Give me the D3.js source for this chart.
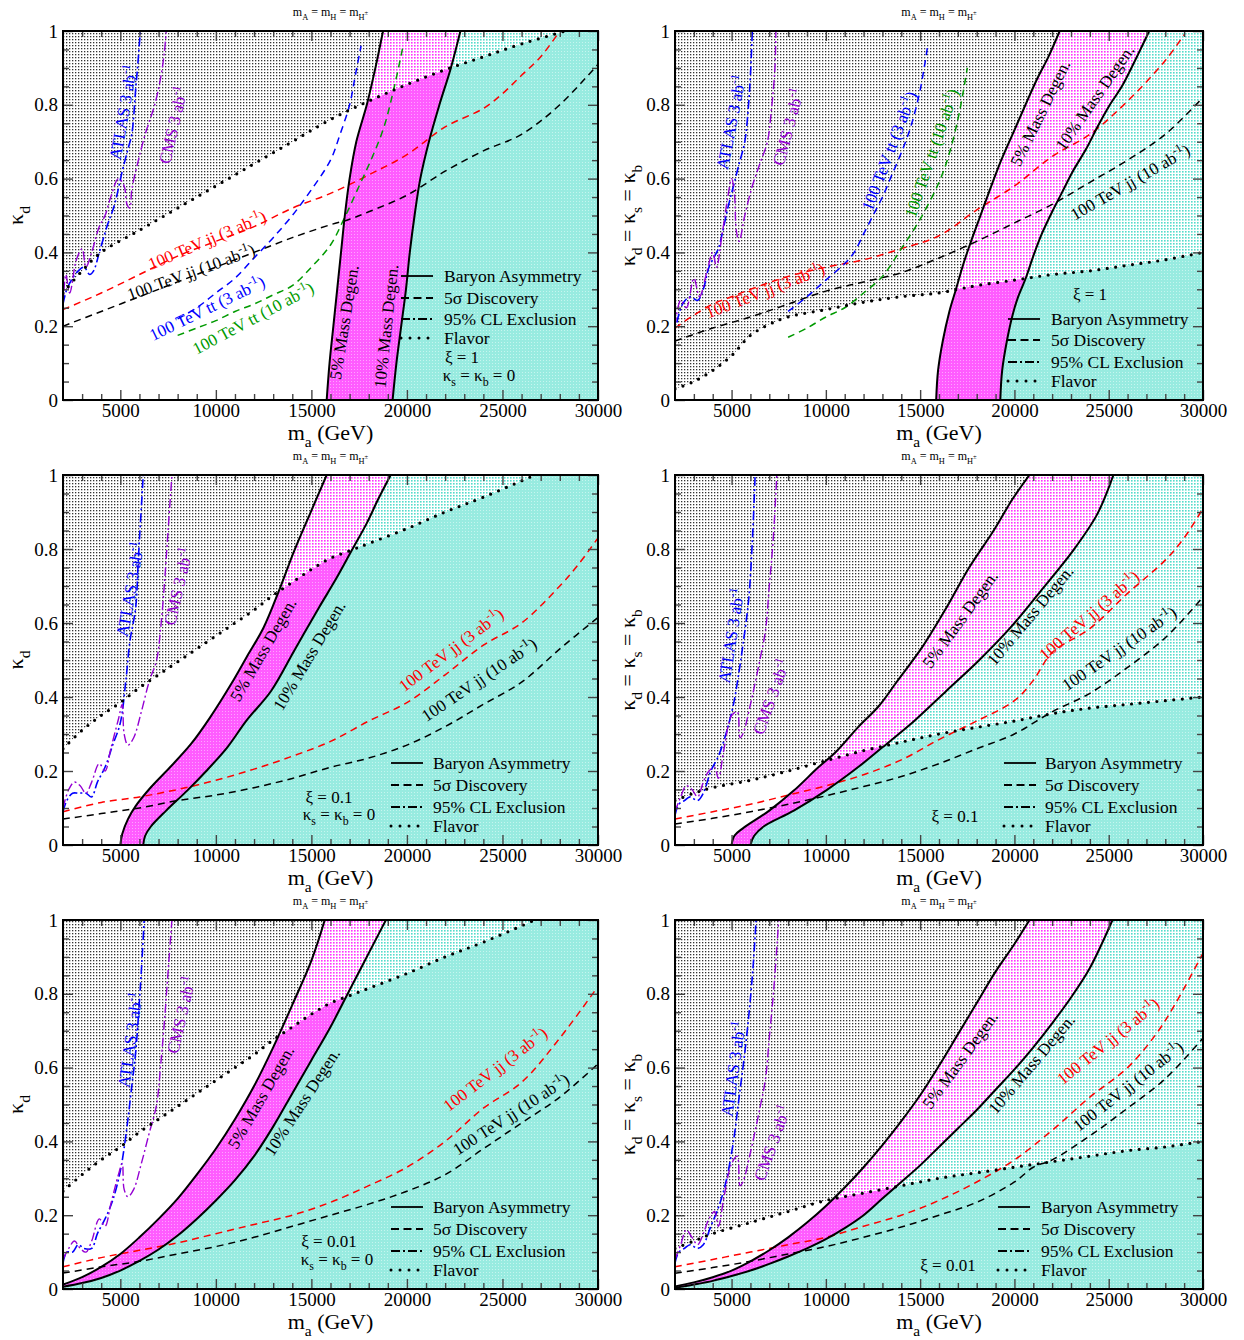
<!DOCTYPE html>
<html>
<head>
<meta charset="utf-8">
<script src="https://cdn.jsdelivr.net/npm/d3@7/dist/d3.min.js"></script>
<style>
  body { margin: 0; background: #fff; }
  svg { display: block; }
  text { font-family: "Liberation Serif", "Times New Roman", serif; }
</style>
</head>
<body>
<svg id="fig" width="1244" height="1340"></svg>
<script>
// ---------- data: [m_a (GeV), kappa] ----------
// Panel A: xi = 1, kappa_s = kappa_b = 0
const degen5A = [[15800,0],[15950,0.1],[16150,0.2],[16350,0.3],[16550,0.4],[16750,0.5],[17000,0.6],[17350,0.7],[17900,0.8],[18350,0.9],[18750,1.0]];
const degen10A = [[19250,0],[19450,0.1],[19700,0.2],[19950,0.3],[20150,0.4],[20400,0.5],[20700,0.6],[21150,0.7],[21700,0.8],[22300,0.9],[22800,1.0]];
const flavorA = [[2000,0.29],[3000,0.35],[4000,0.40],[6000,0.46],[8000,0.52],[10000,0.58],[12000,0.64],[14000,0.70],[16000,0.76],[18000,0.81],[20000,0.855],[22000,0.895],[24000,0.93],[26000,0.965],[28300,1.0]];
const jj3A = [[2000,0.245],[4000,0.29],[6000,0.34],[8000,0.39],[10000,0.43],[12000,0.47],[14000,0.52],[16000,0.56],[18000,0.61],[20000,0.665],[22000,0.74],[24000,0.79],[25000,0.83],[26000,0.88],[27000,0.93],[28000,1.0]];
const jj10A = [[2000,0.2],[4000,0.24],[6000,0.28],[8000,0.32],[10000,0.36],[12000,0.40],[14000,0.44],[16000,0.475],[17000,0.49],[18000,0.51],[20000,0.555],[22000,0.62],[24000,0.675],[26000,0.72],[28000,0.80],[30000,0.91]];
const tt3A = [[8000,0.22],[9000,0.25],[10000,0.29],[11000,0.33],[12000,0.385],[13000,0.44],[14000,0.50],[15000,0.57],[16000,0.65],[16500,0.72],[17000,0.80],[17300,0.88],[17600,0.96]];
const tt10A = [[8000,0.175],[9000,0.195],[10000,0.215],[11000,0.24],[12000,0.26],[13000,0.285],[14000,0.31],[15000,0.36],[16000,0.42],[16700,0.49],[17500,0.58],[18200,0.66],[18800,0.74],[19300,0.84],[19800,0.96]];
const atlasA = [[2000,0.26],[2200,0.30],[2500,0.33],[2800,0.35],[3100,0.36],[3400,0.34],[3600,0.35],[3900,0.40],[4300,0.47],[4700,0.53],[5100,0.62],[5400,0.68],[5600,0.72],[5800,0.84],[5900,0.90],[6050,1.0]];
const cmsA = [[2000,0.25],[2150,0.34],[2350,0.29],[2700,0.38],[3000,0.41],[3200,0.36],[3500,0.40],[3900,0.47],[4200,0.50],[4500,0.55],[4900,0.60],[5200,0.58],[5350,0.53],[5500,0.52],[5600,0.57],[5900,0.64],[6300,0.72],[6800,0.80],[7100,0.87],[7300,0.94],[7400,1.0]];

// Panel B: xi = 1, kappa_d = kappa_s = kappa_b
const degen5B = [[15850,0],[15950,0.08],[16200,0.16],[16550,0.24],[16900,0.30],[17300,0.37],[17700,0.43],[18200,0.50],[18700,0.57],[19300,0.65],[19900,0.72],[20500,0.79],[21200,0.87],[21800,0.93],[22400,1.0]];
const degen10B = [[19250,0],[19350,0.08],[19600,0.16],[19900,0.23],[20200,0.28],[20600,0.33],[21000,0.39],[21450,0.45],[22000,0.51],[22500,0.56],[23100,0.62],[23800,0.68],[24400,0.74],[25000,0.795],[25700,0.85],[26300,0.91],[27150,1.0]];
const flavorB = [[2000,0.03],[3000,0.05],[4000,0.08],[5000,0.12],[6000,0.175],[7000,0.205],[8000,0.225],[10000,0.245],[12000,0.265],[14000,0.28],[16000,0.29],[17000,0.30],[18000,0.31],[20000,0.325],[22000,0.34],[24000,0.35],[26000,0.365],[28000,0.38],[30000,0.40]];
const jj3B = [[2000,0.195],[3000,0.23],[4000,0.26],[5000,0.28],[6000,0.30],[8000,0.335],[10000,0.36],[12000,0.38],[14000,0.41],[16000,0.445],[18000,0.515],[20000,0.58],[22000,0.66],[24000,0.72],[26000,0.81],[28000,0.92],[29000,0.99]];
const jj10B = [[2000,0.16],[4000,0.195],[6000,0.225],[8000,0.26],[10000,0.295],[12000,0.32],[14000,0.345],[16000,0.385],[18000,0.43],[20000,0.48],[22000,0.53],[24000,0.59],[26000,0.65],[28000,0.72],[30000,0.82]];
const tt3B = [[8000,0.24],[9000,0.28],[10000,0.325],[11000,0.37],[11500,0.40],[12000,0.45],[12500,0.50],[13000,0.55],[13500,0.61],[14000,0.67],[14500,0.74],[15000,0.84],[15400,0.96]];
const tt10B = [[8000,0.17],[9000,0.195],[10000,0.225],[11000,0.25],[12000,0.29],[13000,0.335],[14000,0.41],[15000,0.49],[16000,0.59],[16500,0.66],[17000,0.76],[17300,0.84],[17500,0.90]];
const atlasB = [[2100,0.21],[2400,0.26],[2800,0.28],[3200,0.27],[3500,0.30],[3800,0.36],[4100,0.39],[4300,0.41],[4500,0.45],[4800,0.52],[5100,0.58],[5400,0.64],[5700,0.70],[5900,0.80],[6000,0.88],[6100,1.0]];
const cmsB = [[2000,0.20],[2300,0.27],[2600,0.25],[3000,0.33],[3300,0.28],[3700,0.35],[4000,0.40],[4200,0.36],[4500,0.45],[4800,0.55],[5000,0.60],[5150,0.56],[5250,0.46],[5400,0.43],[5700,0.50],[6100,0.58],[6500,0.64],[6900,0.70],[7100,0.78],[7300,0.90],[7350,1.0]];

// Panel C: xi = 0.1, kappa_s = kappa_b = 0
const degen5C = [[5000,0],[5100,0.03],[5400,0.07],[5800,0.105],[6600,0.156],[7600,0.21],[8700,0.273],[9700,0.345],[10800,0.435],[11600,0.507],[12500,0.588],[13300,0.687],[14100,0.795],[15000,0.904],[15800,1.0]];
const degen10C = [[6200,0],[6300,0.025],[6600,0.05],[7400,0.093],[8500,0.147],[9500,0.2],[10600,0.264],[11600,0.336],[12900,0.417],[14100,0.525],[15400,0.642],[16300,0.72],[17100,0.795],[17900,0.87],[18500,0.935],[19150,1.0]];
const flavorC = [[2000,0.26],[3000,0.31],[4000,0.35],[5000,0.385],[6000,0.425],[7000,0.46],[8000,0.495],[9000,0.53],[10000,0.565],[11000,0.60],[12000,0.635],[13000,0.675],[14000,0.71],[15000,0.745],[16000,0.775],[17000,0.795],[18000,0.815],[20000,0.855],[22000,0.90],[24000,0.94],[26700,1.0]];
const jj3C = [[2000,0.09],[4000,0.115],[6000,0.13],[8000,0.15],[10000,0.175],[12000,0.205],[14000,0.24],[16000,0.28],[18000,0.335],[20000,0.385],[22000,0.46],[24000,0.54],[26000,0.60],[28000,0.70],[29000,0.76],[30000,0.83]];
const jj10C = [[2000,0.07],[4000,0.085],[6000,0.10],[8000,0.12],[10000,0.135],[12000,0.155],[14000,0.18],[16000,0.21],[18000,0.235],[20000,0.27],[22000,0.32],[24000,0.38],[26000,0.44],[28000,0.53],[30000,0.615]];
const atlasC = [[2000,0.09],[2200,0.12],[2500,0.14],[2800,0.14],[3200,0.14],[3500,0.13],[3800,0.17],[4200,0.21],[4600,0.27],[5000,0.33],[5300,0.45],[5500,0.55],[5800,0.64],[5950,0.78],[6200,1.0]];
const cmsC = [[2000,0.10],[2300,0.15],[2600,0.17],[2900,0.16],[3200,0.14],[3500,0.17],[3900,0.22],[4200,0.20],[4500,0.26],[4900,0.34],[5100,0.38],[5200,0.30],[5400,0.27],[5700,0.29],[6100,0.36],[6500,0.44],[6900,0.50],[7100,0.58],[7300,0.70],[7500,0.85],[7700,1.0]];

// Panel D: xi = 0.1, kappa_d = kappa_s = kappa_b
const degen5D = [[5000,0],[5150,0.025],[5600,0.045],[7000,0.093],[8300,0.147],[9600,0.21],[10500,0.25],[11700,0.318],[12800,0.375],[13800,0.444],[15100,0.534],[16400,0.642],[17600,0.75],[18900,0.85],[19900,0.935],[20800,1.0]];
const degen10D = [[6000,0],[6200,0.025],[6700,0.05],[8300,0.093],[10000,0.147],[11700,0.21],[13000,0.264],[14700,0.336],[16400,0.417],[18100,0.498],[19800,0.588],[21400,0.687],[23100,0.795],[24400,0.895],[25250,1.0]];
const flavorD = [[2000,0.12],[3000,0.14],[4000,0.155],[6000,0.175],[8000,0.20],[10000,0.228],[12000,0.255],[14000,0.278],[16000,0.30],[18000,0.318],[20000,0.335],[22000,0.355],[24000,0.37],[26000,0.38],[28000,0.39],[30000,0.40]];
const jj3D = [[2000,0.07],[4000,0.09],[6000,0.11],[8000,0.135],[10000,0.16],[12000,0.19],[14000,0.23],[16000,0.285],[18000,0.335],[20000,0.39],[21000,0.445],[22000,0.52],[24000,0.585],[26000,0.68],[28000,0.77],[29000,0.83],[30000,0.91]];
const jj10D = [[2000,0.057],[4000,0.072],[6000,0.09],[8000,0.11],[10000,0.133],[12000,0.158],[14000,0.185],[16000,0.22],[18000,0.26],[20000,0.30],[22000,0.36],[24000,0.41],[26000,0.48],[28000,0.56],[30000,0.67]];
const atlasD = [[2000,0.08],[2200,0.11],[2500,0.12],[2800,0.13],[3200,0.12],[3500,0.14],[3900,0.20],[4300,0.24],[4700,0.30],[5100,0.38],[5400,0.47],[5600,0.54],[5900,0.66],[6100,0.82],[6250,1.0]];
const cmsD = [[2000,0.09],[2300,0.13],[2600,0.16],[2900,0.15],[3200,0.13],[3500,0.17],[3800,0.20],[4100,0.21],[4300,0.18],[4600,0.26],[5000,0.35],[5300,0.36],[5450,0.29],[5600,0.30],[6000,0.38],[6500,0.50],[6800,0.58],[7000,0.70],[7200,0.82],[7400,1.0]];

// Panel E: xi = 0.01, kappa_s = kappa_b = 0
const degen5E = [[2000,0.012],[3000,0.032],[4000,0.06],[5000,0.095],[6000,0.14],[7000,0.19],[8000,0.245],[9000,0.31],[10000,0.38],[11000,0.46],[12000,0.55],[13000,0.655],[14000,0.77],[15000,0.89],[15700,1.0]];
const degen10E = [[2000,0.006],[3000,0.016],[4000,0.03],[5000,0.05],[6000,0.076],[7000,0.107],[8000,0.145],[9000,0.19],[10000,0.24],[11000,0.295],[12000,0.36],[13000,0.44],[14000,0.53],[15000,0.62],[16000,0.71],[16800,0.79],[17600,0.87],[18300,0.94],[18900,1.0]];
const flavorE = [[2000,0.265],[3000,0.31],[4000,0.35],[5000,0.385],[6000,0.425],[7000,0.46],[8000,0.495],[9000,0.53],[10000,0.565],[11000,0.60],[12000,0.635],[13000,0.675],[14000,0.71],[15000,0.745],[16000,0.775],[17000,0.795],[18000,0.815],[20000,0.855],[22000,0.90],[24000,0.94],[26700,1.0]];
const jj3E = [[2000,0.06],[4000,0.085],[6000,0.105],[8000,0.125],[10000,0.15],[12000,0.175],[14000,0.20],[16000,0.235],[18000,0.28],[20000,0.33],[22000,0.40],[24000,0.49],[26000,0.56],[28000,0.68],[30000,0.82]];
const jj10E = [[2000,0.043],[4000,0.06],[6000,0.075],[8000,0.095],[10000,0.115],[12000,0.14],[14000,0.17],[16000,0.20],[18000,0.23],[20000,0.265],[22000,0.31],[24000,0.38],[26000,0.45],[28000,0.52],[30000,0.61]];
const atlasE = [[2000,0.07],[2200,0.10],[2500,0.10],[2800,0.12],[3100,0.11],[3500,0.11],[3800,0.15],[4200,0.19],[4600,0.24],[5000,0.32],[5300,0.42],[5600,0.55],[5800,0.64],[6050,0.82],[6250,1.0]];
const cmsE = [[2000,0.08],[2300,0.11],[2600,0.13],[2900,0.11],[3200,0.10],[3500,0.13],[3900,0.19],[4200,0.17],[4500,0.23],[4900,0.31],[5100,0.34],[5200,0.27],[5400,0.25],[5700,0.27],[6100,0.34],[6500,0.42],[6900,0.50],[7100,0.60],[7300,0.72],[7500,0.86],[7700,1.0]];

// Panel F: xi = 0.01, kappa_d = kappa_s = kappa_b
const degen5F = [[2000,0.007],[3000,0.018],[4000,0.032],[5000,0.05],[6000,0.075],[7000,0.105],[8000,0.14],[9000,0.18],[10000,0.225],[11000,0.275],[12000,0.33],[13000,0.39],[14000,0.455],[15000,0.525],[16000,0.605],[17000,0.69],[18000,0.775],[19000,0.86],[20000,0.935],[20800,1.0]];
const degen10F = [[2000,0.003],[3000,0.012],[4000,0.022],[5000,0.035],[6000,0.05],[7000,0.068],[8000,0.088],[9000,0.11],[10000,0.135],[11000,0.165],[12000,0.20],[13000,0.245],[14000,0.29],[15000,0.335],[16000,0.385],[17000,0.435],[18000,0.485],[19000,0.54],[20000,0.595],[21000,0.655],[22000,0.72],[23000,0.79],[24000,0.87],[25200,1.0]];
const flavorF = [[2000,0.11],[3000,0.13],[4000,0.15],[6000,0.18],[8000,0.21],[10000,0.24],[12000,0.26],[14000,0.28],[16000,0.30],[18000,0.315],[20000,0.33],[22000,0.345],[24000,0.36],[26000,0.375],[28000,0.385],[30000,0.40]];
const jj3F = [[2000,0.06],[4000,0.08],[6000,0.10],[8000,0.12],[10000,0.14],[12000,0.17],[14000,0.20],[16000,0.24],[18000,0.29],[20000,0.35],[22000,0.43],[24000,0.52],[26000,0.60],[27500,0.69],[28500,0.77],[30000,0.91]];
const jj10F = [[2000,0.043],[4000,0.058],[6000,0.075],[8000,0.095],[10000,0.115],[12000,0.14],[14000,0.168],[16000,0.20],[18000,0.235],[20000,0.29],[21000,0.33],[22000,0.35],[24000,0.415],[26000,0.49],[28000,0.57],[30000,0.68]];
const atlasF = [[2000,0.07],[2200,0.10],[2500,0.11],[2800,0.12],[3200,0.11],[3500,0.12],[3900,0.17],[4300,0.22],[4700,0.29],[5100,0.40],[5400,0.52],[5700,0.64],[5950,0.76],[6150,0.88],[6300,1.0]];
const cmsF = [[2000,0.08],[2300,0.12],[2600,0.16],[2900,0.14],[3200,0.12],[3500,0.15],[3800,0.19],[4100,0.21],[4300,0.17],[4600,0.25],[5000,0.34],[5300,0.36],[5450,0.28],[5600,0.29],[6000,0.37],[6500,0.49],[6800,0.57],[7000,0.68],[7250,0.82],[7500,1.0]];

// tick values
const xMajor = [5000, 10000, 15000, 20000, 25000, 30000];
const xMinor = d3.range(3000, 30000, 1000).filter(v => v % 5000 !== 0);
const yMajor = [0, 0.2, 0.4, 0.6, 0.8, 1];
const yMinor = d3.range(1, 20).filter(i => i % 4 !== 0).map(i => i / 20);

// text pieces: [string, mode] mode 0 normal, 1 subscript, 2 superscript, 3 small raised
const T_ATLAS = [["ATLAS 3 ab", 0], ["-1", 2]];
const T_CMS = [["CMS 3 ab", 0], ["-1", 2]];
const T_JJ3 = [["100 TeV jj (3 ab", 0], ["-1", 2], [")", 0]];
const T_JJ10 = [["100 TeV jj (10 ab", 0], ["-1", 2], [")", 0]];
const T_TT3 = [["100 TeV tt (3 ab", 0], ["-1", 2], [")", 0]];
const T_TT10 = [["100 TeV tt (10 ab", 0], ["-1", 2], [")", 0]];
const T_D5 = [["5% Mass Degen.", 0]];
const T_D10 = [["10% Mass Degen.", 0]];
const T_TITLE = [["m", 0], ["A", 1], [" = m", 0], ["H", 1], [" = m", 0], ["H", 1], ["±", 3]];
const T_XLAB = [["m", 0], ["a", 1], [" (GeV)", 0]];
const T_YLAB1 = [["κ", 0], ["d", 1]];
const T_YLAB2 = [["κ", 0], ["d", 1], [" = κ", 0], ["s", 1], [" = κ", 0], ["b", 1]];
const T_KZERO = [["κ", 0], ["s", 1], [" = κ", 0], ["b", 1], [" = 0", 0]];
const legendNames = ["Baryon Asymmetry", "5σ Discovery", "95% CL Exclusion", "Flavor"];

const RED = "#ff0000", BLUE = "#0000ff", GREEN = "#009a00", PURPLE = "#9400d3";

// annotation anchors in data units (m, kappa) and rotation
const labelsA = [
  { t: T_ATLAS, m: 5140, k: 0.78, a: -80, c: BLUE },
  { t: T_CMS, m: 7757, k: 0.745, a: -77, c: PURPLE },
  { t: T_JJ3, m: 9537, k: 0.434, a: -23, c: RED },
  { t: T_JJ10, m: 8700, k: 0.347, a: -20, c: "#000" },
  { t: T_TT3, m: 9537, k: 0.249, a: -26, c: BLUE },
  { t: T_TT10, m: 11945, k: 0.222, a: -28, c: GREEN },
  { t: T_D5, m: 16700, k: 0.211, a: -81, c: "#000" },
  { t: T_D10, m: 18900, k: 0.2, a: -84, c: "#000" }
];
const labelsB = [
  { t: T_ATLAS, m: 4970, k: 0.753, a: -79, c: BLUE },
  { t: T_CMS, m: 7992, k: 0.74, a: -75, c: PURPLE },
  { t: T_TT3, m: 13348, k: 0.675, a: -69, c: BLUE },
  { t: T_TT10, m: 15600, k: 0.669, a: -71, c: GREEN },
  { t: T_D5, m: 21356, k: 0.778, a: -64, c: "#000" },
  { t: T_D10, m: 24250, k: 0.82, a: -55, c: "#000" },
  { t: T_JJ3, m: 6773, k: 0.297, a: -21, c: RED },
  { t: T_JJ10, m: 26129, k: 0.591, a: -30, c: "#000" }
];
const labelsC = [
  { t: T_ATLAS, m: 5507, k: 0.691, a: -80, c: BLUE },
  { t: T_CMS, m: 8019, k: 0.699, a: -77, c: PURPLE },
  { t: T_D5, m: 12468, k: 0.528, a: -60, c: "#000" },
  { t: T_D10, m: 14876, k: 0.512, a: -59, c: "#000" },
  { t: T_JJ3, m: 22308, k: 0.528, a: -37, c: RED },
  { t: T_JJ10, m: 23773, k: 0.447, a: -34, c: "#000" }
];
const labelsD = [
  { t: T_ATLAS, m: 4970, k: 0.566, a: -81, c: BLUE },
  { t: T_CMS, m: 7091, k: 0.401, a: -70, c: PURPLE },
  { t: T_D5, m: 17113, k: 0.61, a: -54, c: "#000" },
  { t: T_D10, m: 20826, k: 0.621, a: -50, c: "#000" },
  { t: T_JJ3, m: 23954, k: 0.621, a: -41, c: RED },
  { t: T_JJ10, m: 25545, k: 0.531, a: -34.5, c: "#000" }
];
const labelsE = [
  { t: T_ATLAS, m: 5507, k: 0.675, a: -82, c: BLUE },
  { t: T_CMS, m: 8176, k: 0.743, a: -77, c: PURPLE },
  { t: T_D5, m: 12350, k: 0.52, a: -60, c: "#000" },
  { t: T_D10, m: 14500, k: 0.507, a: -57, c: "#000" },
  { t: T_JJ3, m: 24611, k: 0.596, a: -37.5, c: RED },
  { t: T_JJ10, m: 25448, k: 0.474, a: -33, c: "#000" }
];
const labelsF = [
  { t: T_ATLAS, m: 5076, k: 0.596, a: -82, c: BLUE },
  { t: T_CMS, m: 7144, k: 0.396, a: -70, c: PURPLE },
  { t: T_D5, m: 17113, k: 0.621, a: -54, c: "#000" },
  { t: T_D10, m: 20900, k: 0.61, a: -50, c: "#000" },
  { t: T_JJ3, m: 24962, k: 0.672, a: -39, c: RED },
  { t: T_JJ10, m: 26023, k: 0.55, a: -38, c: "#000" }
];

// ---------- layout ----------
const panels = [
  { left: 63, top: 31, w: 535, h: 369, c5: degen5A, c10: degen10A, flavor: flavorA, jj3: jj3A, jj10: jj10A, tt3: tt3A, tt10: tt10A, atlas: atlasA, cms: cmsA,
    ylab: T_YLAB1, xi: "1", labels: labelsA, leg: { lx: 338, tx: 381, rows: [245, 267, 288, 307], xi: [399, 327], kz: [416, 346] } },
  { left: 675, top: 31, w: 528, h: 369, c5: degen5B, c10: degen10B, flavor: flavorB, jj3: jj3B, jj10: jj10B, tt3: tt3B, tt10: tt10B, atlas: atlasB, cms: cmsB,
    ylab: T_YLAB2, xi: "1", labels: labelsB, leg: { lx: 333, tx: 376, rows: [288, 309, 331, 350], xi: [415, 264] } },
  { left: 63, top: 475, w: 535, h: 370, c5: degen5C, c10: degen10C, flavor: flavorC, jj3: jj3C, jj10: jj10C, atlas: atlasC, cms: cmsC,
    ylab: T_YLAB1, xi: "0.1", labels: labelsC, leg: { lx: 328, tx: 370, rows: [288, 310, 332, 351], xi: [266, 323], kz: [276, 341] } },
  { left: 675, top: 475, w: 528, h: 370, c5: degen5D, c10: degen10D, flavor: flavorD, jj3: jj3D, jj10: jj10D, atlas: atlasD, cms: cmsD,
    ylab: T_YLAB2, xi: "0.1", labels: labelsD, leg: { lx: 329, tx: 370, rows: [288, 310, 332, 351], xi: [280, 342] } },
  { left: 63, top: 920, w: 535, h: 369, c5: degen5E, c10: degen10E, flavor: flavorE, jj3: jj3E, jj10: jj10E, atlas: atlasE, cms: cmsE,
    ylab: T_YLAB1, xi: "0.01", labels: labelsE, leg: { lx: 328, tx: 370, rows: [287, 309, 331, 350], xi: [266, 322], kz: [274, 341] } },
  { left: 675, top: 920, w: 528, h: 369, c5: degen5F, c10: degen10F, flavor: flavorF, jj3: jj3F, jj10: jj10F, atlas: atlasF, cms: cmsF,
    ylab: T_YLAB2, xi: "0.01", labels: labelsF, leg: { lx: 323, tx: 366, rows: [287, 309, 331, 350], xi: [273, 346] } }
];

const svg = d3.select("#fig");
const defs = svg.append("defs");

function pattern(id, bg, fg, size, dot) {
  const p = defs.append("pattern").attr("id", id)
    .attr("patternUnits", "userSpaceOnUse").attr("width", size).attr("height", size);
  p.append("rect").attr("width", size).attr("height", size).attr("fill", bg);
  p.append("rect").attr("width", dot).attr("height", dot).attr("fill", fg);
}
pattern("grayDots", "#fff", "#333", 3, 1.3);
pattern("pinkDots", "#fff", "#ff33ff", 3, 1.6);
pattern("cyanDots", "#fff", "#55dccb", 3, 1.6);
pattern("magFill", "#ff5cff", "#ffa3ff", 3, 1);
pattern("cyanFill", "#98ebe0", "#c6f5ef", 3, 1);

// writes text pieces with sub/superscripts into a text element
function rich(sel, parts, size) {
  let shift = 0;
  parts.forEach(([s, mode]) => {
    const target = mode === 1 ? size * 0.3 : mode === 2 ? -size * 0.42 : mode === 3 ? -size * 0.05 : 0;
    const fs = mode === 0 ? size : mode === 3 ? size * 0.55 : size * 0.7;
    sel.append("tspan").attr("dy", target - shift).attr("font-size", fs).text(s);
    shift = target;
  });
  return sel;
}

function dashFor(kind) {
  return kind === "solid" ? null : kind === "dash" ? "7,5" : kind === "dashdot" ? "9,3,2,3" : "0,8.5";
}

panels.forEach((p, i) => {
  const x = d3.scaleLinear().domain([2000, 30000]).range([p.left, p.left + p.w]);
  const y = d3.scaleLinear().domain([0, 1]).range([p.top + p.h, p.top]);
  const line = d3.line().x(d => x(d[0])).y(d => y(d[1])).curve(d3.curveCatmullRom.alpha(0.5));
  const L = (m, k) => `L${x(m)},${y(k)}`;
  const g = svg.append("g");

  defs.append("clipPath").attr("id", "plot" + i).append("rect")
    .attr("x", p.left).attr("y", p.top).attr("width", p.w).attr("height", p.h);

  // regions above / below the flavor bound
  const f = p.flavor, fl = f[f.length - 1];
  defs.append("clipPath").attr("id", "above" + i).append("path")
    .attr("d", line(f) + L(30500, fl[1]) + L(30500, 1.1) + L(1500, 1.1) + L(1500, f[0][1]) + "Z");
  defs.append("clipPath").attr("id", "below" + i).append("path")
    .attr("d", line(f) + L(30500, fl[1]) + L(30500, -0.1) + L(1500, -0.1) + L(1500, f[0][1]) + "Z");

  const c5 = p.c5, c10 = p.c10;
  const a5 = c5[0], b5 = c5[c5.length - 1], a10 = c10[0], b10 = c10[c10.length - 1];
  const leftD = line(c5) + L(b5[0], 1.1) + L(1500, 1.1) + L(1500, -0.1) + L(a5[0], -0.1) + "Z";
  const bandD = line(c5) + L(b5[0], 1.1) + L(b10[0], 1.1) +
    line(c10.slice().reverse()).replace(/^M/, "L") + L(a10[0], -0.1) + L(a5[0], -0.1) + "Z";
  const rightD = line(c10) + L(b10[0], 1.1) + L(30500, 1.1) + L(30500, -0.1) + L(a10[0], -0.1) + "Z";

  const fills = g.append("g").attr("clip-path", `url(#plot${i})`);
  [[leftD, null, "url(#grayDots)"], [bandD, "url(#magFill)", "url(#pinkDots)"], [rightD, "url(#cyanFill)", "url(#cyanDots)"]]
    .forEach(([d, lo, hi]) => {
      if (lo) fills.append("path").attr("d", d).attr("fill", lo).attr("clip-path", `url(#below${i})`);
      fills.append("path").attr("d", d).attr("fill", hi).attr("clip-path", `url(#above${i})`);
    });

  // curves
  const lines = g.append("g").attr("clip-path", `url(#plot${i})`).attr("fill", "none");
  const draw = (data, color, kind, w) => lines.append("path").attr("d", line(data))
    .attr("stroke", color).attr("stroke-width", w).attr("stroke-dasharray", dashFor(kind));
  draw(p.jj3, RED, "dash", 1.5);
  draw(p.jj10, "#000", "dash", 1.5);
  if (p.tt3) draw(p.tt3, BLUE, "dash", 1.5);
  if (p.tt10) draw(p.tt10, GREEN, "dash", 1.5);
  draw(p.atlas, BLUE, "dashdot", 1.6);
  draw(p.cms, PURPLE, "dashdot", 1.4);
  draw(f, "#000", "dot", 3.2).attr("stroke-linecap", "round");
  draw(c5, "#000", "solid", 2);
  draw(c10, "#000", "solid", 2);

  // curve labels
  p.labels.forEach(l => {
    const t = g.append("text")
      .attr("transform", `translate(${x(l.m)},${y(l.k)}) rotate(${l.a})`)
      .attr("text-anchor", "middle").attr("y", 6).attr("fill", l.c).attr("font-size", 17);
    rich(t, l.t, 17);
  });

  // axes, ticks inward on all four sides
  const tickStyle = sel => {
    sel.select(".domain").remove();
    sel.selectAll(".tick line").attr("stroke", "#444").attr("stroke-width", 1.4);
    sel.selectAll("text").attr("font-size", 19).attr("fill", "#000")
      .attr("font-family", '"Liberation Serif", "Times New Roman", serif');
  };
  const bottom = p.top + p.h, right = p.left + p.w;
  g.append("g").attr("transform", `translate(0,${bottom})`)
    .call(d3.axisBottom(x).tickValues(xMajor).tickSize(-10).tickPadding(4).tickFormat(d3.format("d"))).call(tickStyle);
  g.append("g").attr("transform", `translate(0,${bottom})`)
    .call(d3.axisBottom(x).tickValues(xMinor).tickSize(-6).tickFormat("")).call(tickStyle);
  g.append("g").attr("transform", `translate(0,${p.top})`)
    .call(d3.axisTop(x).tickValues(xMajor).tickSize(-10).tickFormat("")).call(tickStyle);
  g.append("g").attr("transform", `translate(0,${p.top})`)
    .call(d3.axisTop(x).tickValues(xMinor).tickSize(-6).tickFormat("")).call(tickStyle);
  g.append("g").attr("transform", `translate(${p.left},0)`)
    .call(d3.axisLeft(y).tickValues(yMajor).tickSize(-10).tickPadding(5).tickFormat(d => String(d))).call(tickStyle);
  g.append("g").attr("transform", `translate(${p.left},0)`)
    .call(d3.axisLeft(y).tickValues(yMinor).tickSize(-6).tickFormat("")).call(tickStyle);
  g.append("g").attr("transform", `translate(${right},0)`)
    .call(d3.axisRight(y).tickValues(yMajor).tickSize(-10).tickFormat("")).call(tickStyle);
  g.append("g").attr("transform", `translate(${right},0)`)
    .call(d3.axisRight(y).tickValues(yMinor).tickSize(-6).tickFormat("")).call(tickStyle);

  g.append("rect").attr("x", p.left).attr("y", p.top).attr("width", p.w).attr("height", p.h)
    .attr("fill", "none").attr("stroke", "#000").attr("stroke-width", 2);

  // titles
  rich(g.append("text").attr("x", p.left + p.w / 2).attr("y", p.top - 15)
    .attr("text-anchor", "middle").attr("font-size", 12), T_TITLE, 12);
  rich(g.append("text").attr("x", p.left + p.w / 2).attr("y", bottom + 40)
    .attr("text-anchor", "middle").attr("font-size", 22), T_XLAB, 22);
  rich(g.append("text").attr("transform", `translate(${p.left - 40},${p.top + p.h / 2}) rotate(-90)`)
    .attr("text-anchor", "middle").attr("font-size", 22), p.ylab, 22);

  // legend
  const lg = p.leg;
  ["solid", "dash", "dashdot", "dot"].forEach((kind, j) => {
    const yy = p.top + lg.rows[j];
    g.append("line").attr("x1", p.left + lg.lx).attr("x2", p.left + lg.lx + 32)
      .attr("y1", yy).attr("y2", yy).attr("stroke", "#000")
      .attr("stroke-width", kind === "dot" ? 3 : 1.8)
      .attr("stroke-linecap", kind === "dot" ? "round" : "butt")
      .attr("stroke-dasharray", kind === "dot" ? "0,9" : kind === "dash" ? "8,4.5" : kind === "dashdot" ? "9,3,2,3" : null);
    g.append("text").attr("x", p.left + lg.tx).attr("y", yy + 6).attr("font-size", 17.5).text(legendNames[j]);
  });
  rich(g.append("text").attr("x", p.left + lg.xi[0]).attr("y", p.top + lg.xi[1] + 5)
    .attr("text-anchor", "middle").attr("font-size", 17), [["ξ = " + p.xi, 0]], 17);
  if (lg.kz) {
    rich(g.append("text").attr("x", p.left + lg.kz[0]).attr("y", p.top + lg.kz[1] + 4)
      .attr("text-anchor", "middle").attr("font-size", 17), T_KZERO, 17);
  }
});
</script>
</body>
</html>
